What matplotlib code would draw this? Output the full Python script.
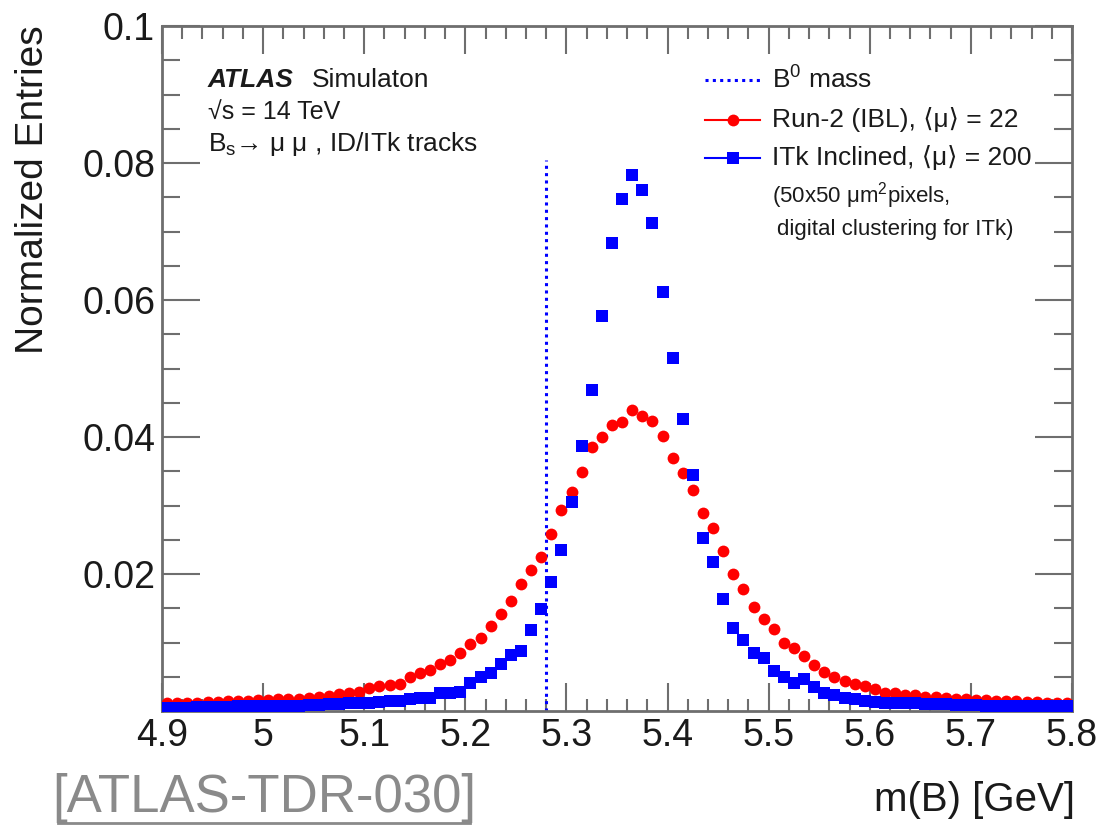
import matplotlib
matplotlib.use("Agg")
import matplotlib.pyplot as plt
from matplotlib.lines import Line2D
from matplotlib.ticker import MultipleLocator
import numpy as np

plt.rcParams['font.family'] = ['Liberation Sans', 'DejaVu Sans']
plt.rcParams['mathtext.fontset'] = 'custom'
plt.rcParams['mathtext.rm'] = 'Liberation Sans'
plt.rcParams['mathtext.it'] = 'Liberation Sans:italic'

# ---- data ----
bin_centers = np.round(np.arange(4.905, 5.8, 0.01), 3)
run2_ibl = [0.0011, 0.0011, 0.0012, 0.0012, 0.0013, 0.0013, 0.0014, 0.0014, 0.0015, 0.0016,
            0.0016, 0.0017, 0.0017, 0.0018, 0.0019, 0.0021, 0.0022, 0.0025, 0.0027, 0.0028,
            0.0033, 0.0036, 0.0038, 0.0040, 0.0050, 0.0055, 0.0060, 0.0069, 0.0074, 0.0084,
            0.0098, 0.0106, 0.0124, 0.0142, 0.0160, 0.0186, 0.0206, 0.0225, 0.0259, 0.0293,
            0.0320, 0.0349, 0.0386, 0.0400, 0.0418, 0.0422, 0.0439, 0.0430, 0.0423, 0.0402,
            0.0369, 0.0347, 0.0323, 0.0289, 0.0267, 0.0233, 0.0200, 0.0178, 0.0152, 0.0134,
            0.0119, 0.0100, 0.0092, 0.0080, 0.0067, 0.0057, 0.0050, 0.0044, 0.0039, 0.0036,
            0.0032, 0.0027, 0.0026, 0.0024, 0.0023, 0.0021, 0.0020, 0.0019, 0.0018, 0.0017,
            0.0016, 0.0016, 0.0015, 0.0014, 0.0014, 0.0013, 0.0013, 0.0012, 0.0012, 0.0011]
itk_inclined = [0.0005, 0.0005, 0.0005, 0.0006, 0.0006, 0.0006, 0.0006, 0.0007, 0.0007, 0.0007,
                0.0007, 0.0008, 0.0008, 0.0008, 0.0009, 0.0009, 0.0010, 0.0010, 0.0011, 0.0012,
                0.0012, 0.0013, 0.0014, 0.0015, 0.0017, 0.0019, 0.0019, 0.0027, 0.0027, 0.0028,
                0.0041, 0.0049, 0.0055, 0.0068, 0.0082, 0.0088, 0.0118, 0.0149, 0.0188, 0.0235,
                0.0305, 0.0387, 0.0469, 0.0577, 0.0683, 0.0747, 0.0782, 0.0761, 0.0713, 0.0611,
                0.0516, 0.0426, 0.0345, 0.0252, 0.0217, 0.0163, 0.0121, 0.0103, 0.0085, 0.0078,
                0.0059, 0.0050, 0.0041, 0.0046, 0.0035, 0.0027, 0.0023, 0.0019, 0.0017, 0.0015,
                0.0013, 0.0012, 0.0012, 0.0011, 0.0011, 0.0010, 0.0010, 0.0010, 0.0009, 0.0009,
                0.0009, 0.0008, 0.0008, 0.0008, 0.0008, 0.0007, 0.0007, 0.0007, 0.0007, 0.0007]
b0_mass = 5.2796
b0_line_top = 0.0805
x_ticks = [4.9, 5.0, 5.1, 5.2, 5.3, 5.4, 5.5, 5.6, 5.7, 5.8]
x_tick_labels = ['4.9', '5', '5.1', '5.2', '5.3', '5.4', '5.5', '5.6', '5.7', '5.8']
y_ticks = [0.02, 0.04, 0.06, 0.08, 0.1]
y_tick_labels = ['0.02', '0.04', '0.06', '0.08', '0.1']

# ---- figure ----
W, H = 1102, 826
fig = plt.figure(figsize=(11.02, 8.26), dpi=100)
ax = fig.add_axes([162/W, 1-711/H, (1072-162)/W, (711-26)/H])

RED, BLUE = '#ff0000', '#0000ff'
ax.plot(bin_centers, run2_ibl, 'o', color=RED, markersize=8.5, markeredgewidth=0, zorder=3)
ax.plot(bin_centers, itk_inclined, 's', color=BLUE, markersize=9, markeredgewidth=0, zorder=3)
ax.plot([b0_mass, b0_mass], [0, b0_line_top], color=BLUE, linestyle=(0, (1, 1.4)),
        linewidth=2.2, zorder=2)

ax.set_xlim(4.9, 5.8)
ax.set_ylim(0, 0.1)
ax.set_xticks(x_ticks)
ax.set_xticklabels(x_tick_labels)
ax.set_yticks(y_ticks)
ax.set_yticklabels(y_tick_labels)
ax.xaxis.set_minor_locator(MultipleLocator(0.02))
ax.yaxis.set_minor_locator(MultipleLocator(0.005))

frame_col = '#6e6e6e'
for s in ax.spines.values():
    s.set_color(frame_col)
    s.set_linewidth(2)
ax.tick_params(which='both', direction='in', top=True, right=True, colors=frame_col,
               labelcolor='#1a1a1a', labelsize=27, width=1.5)
ax.tick_params(which='major', length=20)
ax.tick_params(axis='y', which='major', length=27)
ax.tick_params(axis='x', which='minor', length=9)
ax.tick_params(axis='y', which='minor', length=13)
ax.tick_params(axis='x', which='major', pad=5)
ax.tick_params(axis='y', which='major', pad=5)

TXT = '#1a1a1a'
# axis titles
fig.text(1075/W, 1-800/H, 'm(B) [GeV]', ha='right', va='center', fontsize=29, color=TXT)
fig.text(33/W, 1-25/H, 'Normalized Entries', ha='center', va='top', rotation=90,
         fontsize=28, color=TXT)

# ATLAS labels
tx = 208/W
fig.text(tx, 1-80/H, 'ATLAS', fontsize=19, fontweight='bold', fontstyle='italic',
         ha='left', va='center', color=TXT)
fig.text(312/W, 1-80/H, 'Simulaton', fontsize=19, ha='left', va='center', color=TXT)
fig.text(tx, 1-112/H, '√s = 14 TeV', fontsize=18, ha='left', va='center', color=TXT)
fig.text(tx, 1-144/H, r'B$_\mathregular{s}$→ μ μ , ID/ITk tracks', fontsize=19, ha='left',
         va='center', color=TXT)

# legend (manual)
leg_x0, leg_x1, tx_leg = 705/W, 760/W, 772/W
leg_xm = (leg_x0 + leg_x1) / 2
rows = [80, 120, 158]
fig.add_artist(Line2D([leg_x0, leg_x1], [1-rows[0]/H]*2, color=BLUE,
                      linestyle=(0, (1, 1.4)), linewidth=2.2))
fig.add_artist(Line2D([leg_x0, leg_xm, leg_x1], [1-rows[1]/H]*3, color=RED, linewidth=1.5,
                      marker='o', markersize=8.5, markevery=[1], markeredgewidth=0))
fig.add_artist(Line2D([leg_x0, leg_xm, leg_x1], [1-rows[2]/H]*3, color=BLUE, linewidth=1.5,
                      marker='s', markersize=9, markevery=[1], markeredgewidth=0))
fig.text(tx_leg, 1-rows[0]/H, r'B$^\mathregular{0}$ mass', fontsize=19, ha='left', va='center', color=TXT)
fig.text(tx_leg, 1-rows[1]/H, 'Run-2 (IBL), ⟨μ⟩ = 22', fontsize=19, ha='left', va='center', color=TXT)
fig.text(tx_leg, 1-rows[2]/H, 'ITk Inclined, ⟨μ⟩ = 200', fontsize=19, ha='left', va='center', color=TXT)
fig.text(tx_leg, 1-196/H, r'(50x50 μm$^\mathregular{2}$pixels,', fontsize=16, ha='left', va='center', color=TXT)
fig.text(777/W, 1-230/H, 'digital clustering for ITk)', fontsize=16, ha='left', va='center', color=TXT)

# reference tag
fig.text(52/W, 1-798/H, '[ATLAS-TDR-030]', fontsize=38, ha='left', va='center', color='#8a8a8a')
fig.add_artist(Line2D([58/W, 470/W], [1-823/H]*2, color='#8a8a8a', linewidth=2))

fig.savefig('out.png', dpi=100)
